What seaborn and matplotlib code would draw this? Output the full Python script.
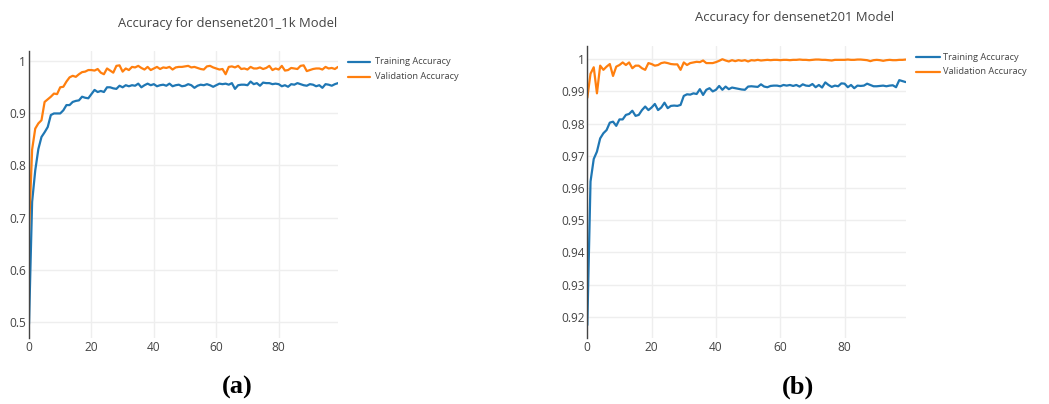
import numpy as np
import pandas as pd
import matplotlib
matplotlib.use("Agg")
import matplotlib.pyplot as plt
import seaborn as sns

epochs = list(range(100))

a_train = [0.496, 0.73, 0.79, 0.831, 0.854, 0.863, 0.873, 0.896, 0.899, 0.899,
           0.899, 0.905, 0.915, 0.915, 0.921, 0.923, 0.924, 0.931, 0.929, 0.928,
           0.936, 0.944, 0.940, 0.942, 0.940, 0.949, 0.949, 0.947, 0.946, 0.952,
           0.949, 0.953, 0.951, 0.953, 0.952, 0.956, 0.949, 0.953, 0.956, 0.953,
           0.955, 0.951, 0.953, 0.954, 0.952, 0.956, 0.951, 0.953, 0.954, 0.951,
           0.952, 0.955, 0.953, 0.948, 0.952, 0.954, 0.953, 0.955, 0.953, 0.950,
           0.953, 0.956, 0.955, 0.956, 0.954, 0.957, 0.946, 0.953, 0.954, 0.954,
           0.953, 0.960, 0.955, 0.957, 0.952, 0.958, 0.957, 0.957, 0.955, 0.956,
           0.955, 0.951, 0.953, 0.950, 0.955, 0.954, 0.957, 0.955, 0.953, 0.952,
           0.955, 0.954, 0.951, 0.953, 0.948, 0.955, 0.954, 0.952, 0.955, 0.957]

a_val = [0.675, 0.83, 0.87, 0.88, 0.886, 0.921, 0.926, 0.931, 0.937, 0.936,
         0.949, 0.950, 0.960, 0.968, 0.971, 0.969, 0.974, 0.978, 0.979, 0.982,
         0.982, 0.981, 0.984, 0.977, 0.974, 0.985, 0.981, 0.977, 0.990, 0.991,
         0.979, 0.985, 0.982, 0.988, 0.987, 0.990, 0.986, 0.983, 0.988, 0.982,
         0.985, 0.988, 0.984, 0.987, 0.986, 0.988, 0.983, 0.987, 0.988, 0.988,
         0.989, 0.990, 0.987, 0.988, 0.986, 0.984, 0.983, 0.989, 0.990, 0.987,
         0.985, 0.983, 0.984, 0.974, 0.988, 0.989, 0.987, 0.990, 0.984, 0.985,
         0.983, 0.988, 0.985, 0.985, 0.987, 0.984, 0.986, 0.990, 0.982, 0.985,
         0.983, 0.990, 0.981, 0.982, 0.986, 0.985, 0.984, 0.990, 0.991, 0.980,
         0.982, 0.984, 0.985, 0.985, 0.983, 0.988, 0.985, 0.986, 0.984, 0.988]

b_train = [0.9174, 0.962, 0.969, 0.9713, 0.9754, 0.977, 0.978, 0.9803, 0.9806, 0.9793,
           0.9813, 0.9813, 0.9827, 0.983, 0.984, 0.9824, 0.9827, 0.9842, 0.9853, 0.9842,
           0.985, 0.9861, 0.9842, 0.985, 0.9865, 0.9848, 0.9855, 0.9856, 0.9855, 0.9858,
           0.9886, 0.9891, 0.989, 0.9894, 0.9892, 0.9907, 0.9889, 0.9905, 0.991, 0.990,
           0.9905, 0.9917, 0.9905, 0.9915, 0.9907, 0.9912, 0.991, 0.9908, 0.9906, 0.9905,
           0.9915, 0.9916, 0.9915, 0.9914, 0.9922, 0.9915, 0.9913, 0.9917, 0.9918, 0.9918,
           0.9916, 0.992, 0.9918, 0.992, 0.9917, 0.992, 0.9915, 0.9922, 0.9918, 0.9917,
           0.9923, 0.9913, 0.992, 0.9912, 0.9928, 0.992, 0.9914, 0.9918, 0.9916, 0.9925,
           0.9924, 0.9913, 0.992, 0.991, 0.9918, 0.9917, 0.9918, 0.9924, 0.992, 0.9916,
           0.9916, 0.9917, 0.9918, 0.9916, 0.9918, 0.9919, 0.9913, 0.9935, 0.9932, 0.9929]

b_val = [0.988, 0.9955, 0.9975, 0.9894, 0.998, 0.9967, 0.9977, 0.9985, 0.9948, 0.9977,
         0.9982, 0.999, 0.9982, 0.999, 0.9972, 0.998, 0.998, 0.9972, 0.9967, 0.9988,
         0.9985, 0.998, 0.9982, 0.9988, 0.999, 0.9988, 0.9985, 0.9984, 0.9984, 0.9967,
         0.999, 0.9982, 0.9988, 0.999, 0.9992, 0.9991, 0.9996, 0.9988, 0.9988, 0.9988,
         0.9991, 0.9995, 1.0, 0.9996, 0.9993, 0.9997, 0.9994, 0.9997, 0.9995, 0.9997,
         0.9993, 0.9997, 0.9996, 0.9998, 0.9996, 0.9997, 0.9998, 0.9997, 0.9998, 0.9998,
         0.9997, 0.9998, 0.9998, 0.9997, 0.9998, 0.9998, 0.9999, 0.9998, 0.9998, 0.9997,
         0.9998, 0.9999, 0.9999, 0.9998, 0.9998, 0.9997, 0.9996, 0.9998, 0.9998, 0.9998,
         0.9998, 0.9999, 0.9998, 0.9998, 0.9999, 0.9999, 0.9998, 0.9997, 0.9994, 0.9997,
         0.9998, 0.9997, 0.9995, 0.9997, 0.9998, 0.9997, 0.9997, 0.9998, 0.9998, 0.9999]

titles = ["Accuracy for densenet201_1k Model", "Accuracy for densenet201 Model"]
series_names = ["Training Accuracy", "Validation Accuracy"]
panel_labels = ["(a)", "(b)"]
a_yticks = [0.5, 0.6, 0.7, 0.8, 0.9, 1.0]
a_yticklabels = ["0.5", "0.6", "0.7", "0.8", "0.9", "1"]
b_yticks = [0.92, 0.93, 0.94, 0.95, 0.96, 0.97, 0.98, 0.99, 1.0]
b_yticklabels = ["0.92", "0.93", "0.94", "0.95", "0.96", "0.97", "0.98", "0.99", "1"]
xticks = [0, 20, 40, 60, 80]

sns.set_style("white")
plt.rcParams['font.family'] = ['Open Sans', 'DejaVu Sans']

W, H = 1049, 404
fig = plt.figure(figsize=(W / 100, H / 100), dpi=100)

def px_axes(l, r, t, b):
    return fig.add_axes([l / W, 1 - b / H, (r - l) / W, (b - t) / H])

colors = ["#1f77b4", "#ff7f0e"]
grey = "#444444"

panels = [
    dict(box=(29, 338, 50.7, 338.3), ylim=(0.469, 1.019), yt=a_yticks, ytl=a_yticklabels,
         tr=a_train, va=a_val, title_xy=(228, 23), leg=(348, 370, 375, 62, 76.7), lab=(237, 387)),
    dict(box=(587.3, 905.7, 45.7, 338.3), ylim=(0.9133, 1.0042), yt=b_yticks, ytl=b_yticklabels,
         tr=b_train, va=b_val, title_xy=(795, 17), leg=(916, 940, 943, 57, 71.7), lab=(798, 387)),
]

for k, p in enumerate(panels):
    ax = px_axes(*p["box"])
    df = pd.DataFrame({"epoch": epochs * 2,
                       "acc": list(p["tr"]) + list(p["va"]),
                       "series": [series_names[0]] * 100 + [series_names[1]] * 100})
    sns.lineplot(data=df, x="epoch", y="acc", hue="series", palette=colors,
                 linewidth=1.6, ax=ax, legend=False, zorder=3)
    ax.set_xlim(0, 99)
    ax.set_ylim(*p["ylim"])
    ax.set_xticks(xticks)
    ax.set_yticks(p["yt"])
    ax.set_yticklabels(p["ytl"])
    ax.set_xlabel("")
    ax.set_ylabel("")
    ax.grid(True, color="#eeeeee", linewidth=1)
    ax.set_axisbelow(True)
    for s in ["top", "right", "bottom"]:
        ax.spines[s].set_visible(False)
    ax.spines["left"].set_color(grey)
    ax.spines["left"].set_linewidth(1)
    ax.spines["left"].set_zorder(4)
    ax.tick_params(axis="both", length=0, labelsize=8.6, labelcolor=grey, pad=2)
    # title
    fig.text(p["title_xy"][0] / W, 1 - p["title_xy"][1] / H, titles[k],
             ha="center", va="center", fontsize=9.4, color=grey)
    # legend
    lx0, lx1, tx, y0, y1 = p["leg"]
    for j, yy in enumerate([y0, y1]):
        fig.add_artist(plt.Line2D([lx0 / W, lx1 / W], [1 - yy / H, 1 - yy / H],
                                  color=colors[j], linewidth=1.6))
        fig.text(tx / W, 1 - yy / H, series_names[j], ha="left", va="center",
                 fontsize=6.7, color=grey)
    fig.text(p["lab"][0] / W, 1 - p["lab"][1] / H, panel_labels[k], ha="center", va="center",
             fontsize=19, fontweight="bold", family=["Liberation Serif", "DejaVu Serif"], color="black")

fig.savefig("out.png", dpi=100)
